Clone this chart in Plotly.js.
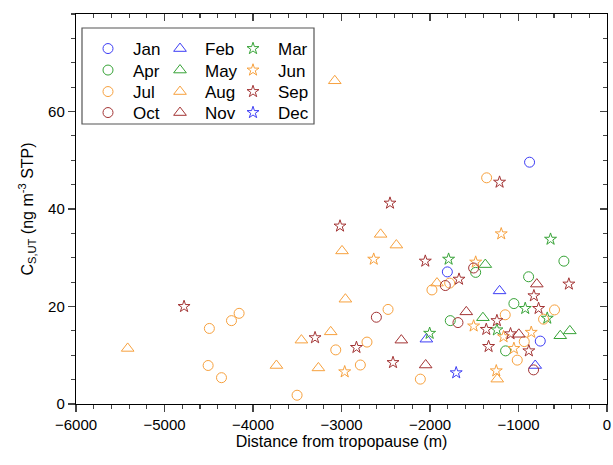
<!DOCTYPE html>
<html>
<head>
<meta charset="utf-8">
<script src="https://cdn.plot.ly/plotly-3.0.1.min.js"></script>
<style>html,body{margin:0;padding:0;background:#fff;}#chart{width:613px;height:465px;}</style>
</head>
<body>
<div id="chart"></div>
<script>
// Month labels
const months = ["Jan","Feb","Mar","Apr","May","Jun","Jul","Aug","Sep","Oct","Nov","Dec"];

// Data: distance from tropopause (m) and C_S,UT (ng m^-3 STP)
const janX = [-875, -1804, -754];
const janY = [49.6, 27.1, 12.9];
const febX = [-1214, -2041, -811];
const febY = [23.2, 13.3, 7.9];
const marX = [-638, -1790, -2004, -924, -675, -1244];
const marY = [33.8, 29.7, 14.5, 19.6, 17.6, 15.2];
const aprX = [-487, -1484, -886, -1052, -1771, -1146];
const aprY = [29.3, 27.0, 26.1, 20.6, 17.1, 10.9];
const mayX = [-1375, -1402, -528, -420];
const mayY = [28.6, 17.7, 14.0, 15.0];
const junX = [-1484, -1195, -2636, -2964, -1507, -1169, -1052, -856, -1251];
const junY = [29.1, 34.9, 29.7, 6.6, 16.0, 13.8, 11.4, 14.7, 6.8];
const julX = [-1360, -1978, -1778, -1150, -593, -717, -935, -1014, -2109, -2474, -2712, -3065, -2787, -3502, -4157, -4243, -4493, -4507, -4356];
const julY = [46.4, 23.4, 24.8, 18.3, 19.3, 17.4, 12.8, 9.0, 5.1, 19.4, 12.7, 11.1, 8.0, 1.8, 18.6, 17.1, 15.5, 7.9, 5.4];
const augX = [-3076, -2380, -2558, -2994, -2956, -3122, -3453, -3735, -3261, -5416, -1240, -1921];
const augY = [66.3, 32.6, 34.8, 31.4, 21.5, 14.8, 13.1, 7.9, 7.4, 11.4, 5.1, 24.8];
const sepX = [-1214, -2452, -3017, -4779, -2053, -1672, -431, -826, -773, -1364, -1244, -1090, -1338, -883, -3299, -2831, -2418];
const sepY = [45.5, 41.2, 36.5, 20.0, 29.3, 25.6, 24.6, 22.2, 19.6, 15.3, 17.1, 14.4, 11.8, 10.9, 13.6, 11.6, 8.5];
const octX = [-1507, -1827, -2606, -1684, -830];
const octY = [27.9, 24.3, 17.8, 16.7, 7.0];
const novX = [-793, -1590, -996, -2324, -2049];
const novY = [24.6, 18.9, 14.3, 13.1, 8.0];
const decX = [-1704];
const decY = [6.4];

const xs = [janX, febX, marX, aprX, mayX, junX, julX, augX, sepX, octX, novX, decX];
const ys = [janY, febY, marY, aprY, mayY, junY, julY, augY, sepY, octY, novY, decY];

const BLUE = '#3d3df5', GREEN = '#37a337', ORANGE = '#f7a13e', DRED = '#a33434';
const colors = [BLUE, BLUE, GREEN, GREEN, GREEN, ORANGE, ORANGE, ORANGE, DRED, DRED, DRED, BLUE];
const symbols = ['circle-open','triangle-up-open','star-open'];
const sizes = [10, 11, 9];

const FONT = 'Liberation Sans, Arial, sans-serif';
const pw = 531, ph = 390;
function lx(px){ return (px - 76) / pw; }
function ly(py){ return (404 - py) / ph; }

const colLeft = [88, 160, 233];
const rowCenter = [47, 68.5, 90, 111];

const traces = months.map((m, i) => ({
  type: 'scatter', mode: 'markers', name: m,
  x: xs[i], y: ys[i],
  legend: i === 0 ? 'legend' : 'legend' + (i + 1),
  marker: {symbol: symbols[i % 3], size: sizes[i % 3], color: colors[i],
           line: {color: colors[i], width: 1}},
  hoverinfo: 'x+y+name'
}));
traces.push({type:'scatter', mode:'markers', x:[], y:[], xaxis:'x2', yaxis:'y2', showlegend:false, hoverinfo:'skip'});

const layout = {
  width: 613, height: 465,
  margin: {l: 76, r: 6, t: 14, b: 61},
  paper_bgcolor: '#fff', plot_bgcolor: '#fff',
  font: {family: FONT, color: '#000'},
  showlegend: true,
  xaxis: {
    range: [-6000, 0], dtick: 1000, tick0: 0, ticks: 'outside', ticklen: 7, tickwidth: 1.2,
    minor: {dtick: 200, ticks: 'outside', ticklen: 4, tickwidth: 1.2, showgrid: false},
    showline: true, linecolor: '#000', linewidth: 1.2, showgrid: false, zeroline: false,
    tickfont: {family: FONT, size: 15, color: '#000'},
    title: {text: 'Distance from tropopause (m)', font: {family: FONT, size: 16, color: '#000'}, standoff: 3}
  },
  yaxis: {
    range: [0, 80], tickvals: [0, 20, 40, 60], ticks: 'outside', ticklen: 7, tickwidth: 1.2,
    minor: {dtick: 5, ticks: 'outside', ticklen: 4, tickwidth: 1.2, showgrid: false},
    showline: true, linecolor: '#000', linewidth: 1.2, showgrid: false, zeroline: false,
    tickfont: {family: FONT, size: 15, color: '#000'},
    title: {text: 'C<sub>S,UT</sub> (ng m<sup>-3</sup> STP)', font: {family: FONT, size: 16, color: '#000'}, standoff: 10}
  },
  xaxis2: {
    overlaying: 'x', side: 'top', anchor: 'y2', range: [-6000, 0], dtick: 1000, tick0: 0,
    ticks: 'inside', ticklen: 7, tickwidth: 1.2, showticklabels: false,
    minor: {dtick: 200, ticks: 'inside', ticklen: 4, tickwidth: 1.2, showgrid: false},
    showline: true, linecolor: '#000', linewidth: 1.2, showgrid: false, zeroline: false
  },
  yaxis2: {
    overlaying: 'y', side: 'right', anchor: 'x2', range: [0, 80], tickvals: [0, 20, 40, 60],
    ticks: 'inside', ticklen: 7, tickwidth: 1.2, showticklabels: false,
    minor: {dtick: 5, ticks: 'inside', ticklen: 4, tickwidth: 1.2, showgrid: false},
    showline: true, linecolor: '#000', linewidth: 1.2, showgrid: false, zeroline: false
  },
  shapes: [{type: 'rect', xref: 'paper', yref: 'paper',
    x0: lx(82), x1: lx(314), y0: ly(124), y1: ly(28),
    line: {color: '#555', width: 1.2}, fillcolor: 'rgba(0,0,0,0)', layer: 'above'}]
};

months.forEach((m, i) => {
  const key = i === 0 ? 'legend' : 'legend' + (i + 1);
  layout[key] = {
    orientation: 'v', xanchor: 'left', yanchor: 'top', bgcolor: 'rgba(0,0,0,0)',
    borderwidth: 0, itemwidth: 40, font: {family: FONT, size: 17, color: '#000'},
    x: lx(colLeft[i % 3] - 5), y: ly(rowCenter[Math.floor(i / 3)] - 16)
  };
});

Plotly.newPlot('chart', traces, layout, {displayModeBar: false, staticPlot: true});
</script>
</body>
</html>
